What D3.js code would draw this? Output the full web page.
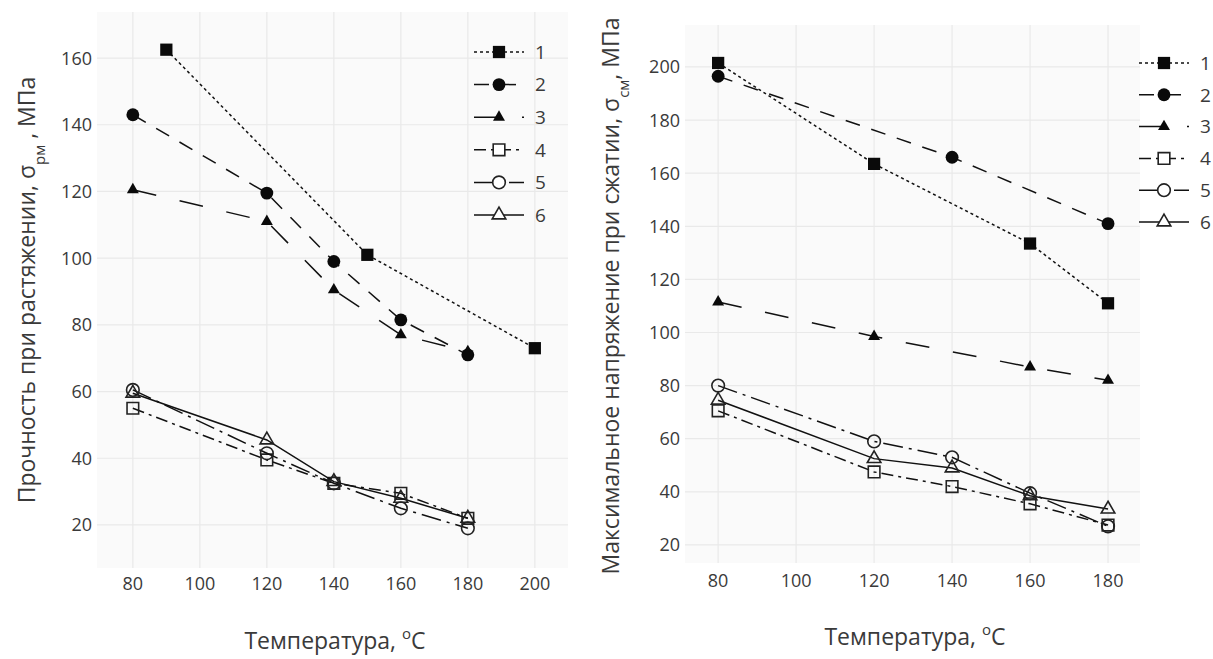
<!DOCTYPE html>
<html lang="ru">
  <head>
    <meta charset="UTF-8" />
    <title>Прочность и напряжение</title>
    <script src="https://d3js.org/d3.v7.min.js"></script>
    <style>
      body { margin: 0; background: #fff; }
      text { font-family: "Open Sans", "DejaVu Sans", sans-serif; fill: #3a3a3a; }
    </style>
  </head>
  <body>
    <svg width="1213" height="659"></svg>
    <script>
      // series labels (legend)
      var seriesNames = ["1", "2", "3", "4", "5", "6"];

      // left chart: tensile strength, MPa
      var tensileTemps = [80, 120, 140, 160, 180];
      var tensileTemps1 = [90, 150, 200];
      var tensile1 = [162.5, 101, 73];
      var tensile2 = [143, 119.5, 99, 81.5, 71];
      var tensile3 = [120.5, 111, 90.5, 77, 72];
      var tensile4 = [55, 39.5, 32.5, 29.5, 22];
      var tensile5 = [60.5, 41.5, 32.5, 25, 19];
      var tensile6 = [59.5, 45.5, 33, 28, 22];
      var tensileXTicks = [80, 100, 120, 140, 160, 180, 200];
      var tensileYTicks = [20, 40, 60, 80, 100, 120, 140, 160];

      // right chart: max compressive stress, MPa
      var compTemps = [80, 120, 140, 160, 180];
      var compTemps1 = [80, 120, 160, 180];
      var compTemps2 = [80, 140, 180];
      var compTemps3 = [80, 120, 160, 180];
      var comp1 = [201.5, 163.5, 133.5, 111];
      var comp2 = [196.5, 166, 141];
      var comp3 = [111.5, 98.5, 87, 82];
      var comp4 = [70.5, 47.5, 42, 35.5, 27.5];
      var comp5 = [80, 59, 53, 39.5, 27];
      var comp6 = [74.5, 52.5, 49, 38.5, 33.5];
      var compXTicks = [80, 100, 120, 140, 160, 180];
      var compYTicks = [20, 40, 60, 80, 100, 120, 140, 160, 180, 200];

      // look of each series: marker + dash
      var styles = [
        { sym: d3.symbolSquare, size: 150, fill: true, dash: "3,3" },
        { sym: d3.symbolCircle, size: 130, fill: true, dash: "15,12" },
        { sym: d3.symbolTriangle, size: 62, fill: true, dash: "24,24" },
        { sym: d3.symbolSquare, size: 135, fill: false, dash: "12,5,3,5" },
        { sym: d3.symbolCircle, size: 125, fill: false, dash: "20,6,3,6" },
        { sym: d3.symbolTriangle, size: 80, fill: false, dash: null },
      ];

      var zip = (xs, ys) => xs.map((x, i) => ({ x: x, y: ys[i] }));

      var svg = d3.select("svg");

      function drawPanel(p) {
        var w = p.right - p.left,
          h = p.bottom - p.top;
        var x = d3.scaleLinear().domain(p.xDomain).range([0, w]);
        var y = d3.scaleLinear().domain(p.yDomain).range([h, 0]);

        var g = svg.append("g").attr("transform", "translate(" + p.left + "," + p.top + ")");

        g.append("rect").attr("width", w).attr("height", h).style("fill", "#fafafa");

        // grid
        g.selectAll("line.vx")
          .data(p.xTicks)
          .join("line")
          .attr("x1", (d) => x(d))
          .attr("x2", (d) => x(d))
          .attr("y1", 0)
          .attr("y2", h)
          .style("stroke", "#e9e9e9")
          .style("stroke-width", 1.2);
        g.selectAll("line.hy")
          .data(p.yTicks)
          .join("line")
          .attr("y1", (d) => y(d))
          .attr("y2", (d) => y(d))
          .attr("x1", 0)
          .attr("x2", w)
          .style("stroke", "#e9e9e9")
          .style("stroke-width", 1.2);

        // tick labels
        g.selectAll("text.xt")
          .data(p.xTicks)
          .join("text")
          .attr("x", (d) => x(d))
          .attr("y", h + p.xLabelDy)
          .attr("text-anchor", "middle")
          .style("font-size", "18px")
          .text((d) => d);
        g.selectAll("text.yt")
          .data(p.yTicks)
          .join("text")
          .attr("x", -5)
          .attr("y", (d) => y(d))
          .attr("dy", "0.36em")
          .attr("text-anchor", "end")
          .style("font-size", "18px")
          .text((d) => d);

        // series
        var line = d3.line().x((d) => x(d.x)).y((d) => y(d.y));
        p.series.forEach(function (s, i) {
          var st = styles[i];
          g.append("path")
            .datum(s)
            .attr("d", line)
            .style("fill", "none")
            .style("stroke", "#111")
            .style("stroke-width", 1.5)
            .style("stroke-dasharray", st.dash);
          g.selectAll("path.m" + i)
            .data(s)
            .join("path")
            .attr("class", "m" + i)
            .attr("transform", (d) => "translate(" + x(d.x) + "," + y(d.y) + ")")
            .attr("d", d3.symbol().type(st.sym).size(st.size))
            .style("fill", st.fill ? "#0a0a0a" : "none")
            .style("stroke", st.fill ? "none" : "#222")
            .style("stroke-width", 1.6);
        });

        // legend
        var lg = svg.append("g").attr("transform", "translate(" + p.legX + "," + p.legY + ")");
        seriesNames.forEach(function (name, i) {
          var st = styles[i];
          var row = lg.append("g").attr("transform", "translate(0," + i * p.legStep + ")");
          row.append("line")
            .attr("x1", 0)
            .attr("x2", 50)
            .style("stroke", "#111")
            .style("stroke-width", 1.5)
            .style("stroke-dasharray", st.dash);
          row.append("path")
            .attr("transform", "translate(25,0)")
            .attr("d", d3.symbol().type(st.sym).size(st.size))
            .style("fill", st.fill ? "#0a0a0a" : "#fff")
            .style("stroke", st.fill ? "none" : "#222")
            .style("stroke-width", 1.6);
          row.append("text")
            .attr("x", 61)
            .attr("dy", "0.36em")
            .style("font-size", "19px")
            .text(name);
        });

        // axis titles
        var xt = svg.append("text")
          .attr("x", p.xTitleX)
          .attr("y", p.xTitleY)
          .attr("text-anchor", "middle")
          .style("font-size", "23px");
        xt.append("tspan").text("Температура, ");
        xt.append("tspan").attr("baseline-shift", "super").style("font-size", "15px").text("o");
        xt.append("tspan").text("C");

        var yt = svg.append("text")
          .attr("transform", "translate(" + p.yTitleX + "," + p.yTitleY + ") rotate(-90)")
          .attr("text-anchor", "middle")
          .style("font-size", "23px");
        yt.append("tspan").text(p.yTitle[0]);
        yt.append("tspan").attr("baseline-shift", "sub").style("font-size", "15px").text(p.yTitle[1]);
        yt.append("tspan").text(p.yTitle[2]);
      }

      drawPanel({
        left: 97, right: 568, top: 12, bottom: 568,
        xDomain: [69.3, 209.9], yDomain: [7.1, 173.8],
        xTicks: tensileXTicks, yTicks: tensileYTicks, xLabelDy: 22,
        series: [
          zip(tensileTemps1, tensile1),
          zip(tensileTemps, tensile2),
          zip(tensileTemps, tensile3),
          zip(tensileTemps, tensile4),
          zip(tensileTemps, tensile5),
          zip(tensileTemps, tensile6),
        ],
        legX: 474, legY: 52, legStep: 32.6,
        xTitleX: 335, xTitleY: 649,
        yTitleX: 35, yTitleY: 290,
        yTitle: ["Прочность при растяжении, σ", "рм", " , МПа"],
      });

      drawPanel({
        left: 685, right: 1140, top: 25, bottom: 563,
        xDomain: [71.5, 188.2], yDomain: [13.2, 215.8],
        xTicks: compXTicks, yTicks: compYTicks, xLabelDy: 24,
        series: [
          zip(compTemps1, comp1),
          zip(compTemps2, comp2),
          zip(compTemps3, comp3),
          zip(compTemps, comp4),
          zip(compTemps, comp5),
          zip(compTemps, comp6),
        ],
        legX: 1139, legY: 63, legStep: 31.8,
        xTitleX: 915, xTitleY: 645,
        yTitleX: 619, yTitleY: 296,
        yTitle: ["Максимальное напряжение при сжатии, σ", "см", ", МПа"],
      });
    </script>
  </body>
</html>
